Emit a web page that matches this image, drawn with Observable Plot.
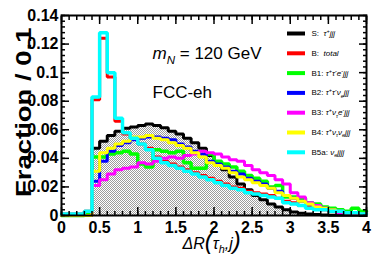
<!DOCTYPE html>
<html><head><meta charset="utf-8">
<script src="https://cdn.jsdelivr.net/npm/d3@7"></script>
<script src="https://cdn.jsdelivr.net/npm/@observablehq/plot@0.6"></script>
<style>
body{margin:0;background:#fff}
svg text{white-space:pre}
</style>
</head><body><div id="chart"></div>
<script>
// ---- data: fraction per 0.1-wide bin of ΔR(τ_h, j), bins start at 0.0 ... 3.9
const binWidth = 0.1;
const nBins = 40;
const S   = [0,0,0,0, 0.047,0.052,0.056,0.059,0.061,0.062, 0.063,0.064,0.063,0.0615,0.059,0.057,0.054,0.051,0.047,0.042, 0.037,0.032,0.027,0.022,0.018,0.014,0.011,0.008,0.006,0.004, 0.0025,0.0015,0.001,0.0007,0.0004,0.0002,0.0001,0.0001,0.0001,0];
const B   = [0.001,0.001,0.001,0.003, 0.081,0.124,0.097,0.066,0.057,0.054, 0.050,0.047,0.041,0.038,0.036,0.034,0.032,0.030,0.028,0.026, 0.024,0.022,0.020,0.019,0.017,0.016,0.015,0.014,0.012,0.010, 0.009,0.007,0.006,0.005,0.004,0.003,0.003,0.002,0.002,0.001];
const B1  = [0,0,0,0.001, 0.041,0.041,0.043,0.044,0.045,0.043, 0.036,0.034,0.046,0.045,0.044,0.045,0.037,0.033,0.033,0.043, 0.038,0.036,0.034,0.031,0.028,0.026,0.024,0.020,0.021,0.013, 0.013,0.012,0.009,0.008,0.006,0.005,0.004,0.003,0.005,0.003];
const B2  = [0,0,0,0, 0.024,0.038,0.045,0.049,0.051,0.053, 0.054,0.055,0.055,0.054,0.053,0.050,0.048,0.045,0.043,0.038, 0.036,0.034,0.031,0.029,0.026,0.024,0.022,0.019,0.017,0.014, 0.012,0.010,0.008,0.006,0.005,0.004,0.003,0.002,0.002,0.001];
const B3  = [0,0,0,0, 0.021,0.025,0.029,0.032,0.033,0.034, 0.037,0.036,0.038,0.040,0.041,0.040,0.042,0.043,0.045,0.044, 0.043,0.041,0.039,0.038,0.035,0.032,0.030,0.028,0.025,0.022, 0.016,0.013,0.009,0.007,0.005,0.003,0.002,0.002,0.001,0.001];
const B4  = [0,0,0,0, 0.031,0.044,0.047,0.050,0.052,0.055, 0.055,0.056,0.054,0.053,0.051,0.049,0.047,0.044,0.041,0.037, 0.035,0.033,0.030,0.027,0.025,0.023,0.021,0.019,0.016,0.014, 0.012,0.010,0.008,0.006,0.005,0.004,0.003,0.002,0.002,0.001];
const B5a = [0.001,0.001,0.001,0.003, 0.083,0.128,0.100,0.068,0.058,0.054, 0.050,0.046,0.040,0.037,0.035,0.033,0.031,0.029,0.027,0.025, 0.023,0.021,0.019,0.018,0.016,0.015,0.014,0.013,0.012,0.009, 0.008,0.007,0.005,0.004,0.004,0.003,0.003,0.002,0.002,0.001];

const seriesNames   = ["S:", "B:", "B1:", "B2:", "B3:", "B4:", "B5a:"];
const seriesLabels  = ["  *τ^{+}jjj*", "  *total*", " *τ^{+}τ^{-}e^{-}jjj*", " *τ^{+}τ^{-}ν_{e}jjj*", " *τ^{+}ν_{τ}e^{-}jjj*", " *τ^{+}ν_{τ}ν_{e}jjj*", " *ν_{e}jjjj*"];
const seriesValues  = [S, B, B1, B2, B3, B4, B5a];
const seriesColors  = ["#000000", "#ff0000", "#00ff00", "#0000ff", "#ff00ff", "#ffff00", "#00ffff"];
const drawOrder     = [1, 2, 3, 4, 5, 6]; // S drawn first (filled)

const xTicks = [0, 0.5, 1, 1.5, 2, 2.5, 3, 3.5, 4];
const xMinor = d3.range(0, 41).map(i => i / 10);
const yTicks = [0, 0.02, 0.04, 0.06, 0.08, 0.1, 0.12, 0.14];
const yMinor = d3.range(0, 36).map(i => +(i * 0.004).toFixed(3));

const yTitle = "Fraction / 0.1";
const annotations = ["*m*_{*N*} = 120 GeV", "FCC-eh"];

// ---- layout
const W = 382, H = 273, mL = 61, mR = 16, mT = 15, mB = 58;
const X0 = 0, X1 = 4, Y0 = 0, Y1 = 0.14;
const px2x = px => X0 + (px - mL) / (W - mL - mR) * (X1 - X0);
const px2y = py => Y0 + (H - mB - py) / (H - mT - mB) * (Y1 - Y0);
const FONT = "'Liberation Sans', Arial, Helvetica, sans-serif";

function stepData(vals) {
  const rows = vals.map((v, i) => ({x: i * binWidth, v}));
  rows.push({x: nBins * binWidth, v: vals[vals.length - 1]});
  return rows;
}

const legendRows = seriesNames.map((n, i) => ({
  name: n, label: seriesLabels[i], color: seriesColors[i],
  y: px2y(33 + i * 19.8)
}));

const marks = [
  Plot.areaY(stepData(S), {x: "x", y: "v", curve: "step-after", fill: "url(#stip)"}),
  Plot.line(stepData(S), {x: "x", y: "v", curve: "step-after", stroke: seriesColors[0], strokeWidth: 3, strokeLinejoin: "miter"}),
  ...drawOrder.map(k => Plot.line(stepData(seriesValues[k]), {
    x: "x", y: "v", curve: "step-after", stroke: seriesColors[k],
    strokeWidth: k === 6 || k === 2 ? 3.5 : 3, strokeLinejoin: "miter"
  })),
  // legend
  Plot.ruleY(legendRows, {y: "y", x1: px2x(287), x2: px2x(305), stroke: "color", strokeWidth: 4}),
  Plot.text(legendRows, {y: "y", x: px2x(311), text: d => d.name + d.label, textAnchor: "start", fontSize: 8, fontWeight: "normal", className: "rich8"}),
  // annotations
  Plot.text([annotations[0]], {x: px2x(152), y: px2y(53), text: d => d, textAnchor: "start", fontSize: 17, fontWeight: "normal", className: "rich17"}),
  Plot.text([annotations[1]], {x: px2x(152), y: px2y(92), text: d => d, textAnchor: "start", fontSize: 17, fontWeight: "normal"}),
  // axes: labels
  Plot.axisY(yTicks, {anchor: "left", tickSize: 0, tickPadding: 3, tickFormat: d => String(d), fontSize: 16, fontWeight: "bold", label: null}),
  Plot.axisX(xTicks, {anchor: "bottom", tickSize: 0, tickPadding: 6, tickFormat: d => String(d), fontSize: 16, fontWeight: "bold", label: null}),
  // axes: inward ticks on all sides
  Plot.axisY(yTicks, {anchor: "left", tickSize: 8, dx: 8, fill: "none", strokeWidth: 1.5, label: null}),
  Plot.axisY(yMinor, {anchor: "left", tickSize: 4, dx: 4, fill: "none", strokeWidth: 1.5, label: null}),
  Plot.axisY(yTicks, {anchor: "right", tickSize: 8, dx: -8, fill: "none", strokeWidth: 1.5, label: null}),
  Plot.axisY(yMinor, {anchor: "right", tickSize: 4, dx: -4, fill: "none", strokeWidth: 1.5, label: null}),
  Plot.axisX(xTicks, {anchor: "bottom", tickSize: 8, dy: -8, fill: "none", strokeWidth: 1.5, label: null}),
  Plot.axisX(xMinor, {anchor: "bottom", tickSize: 4, dy: -4, fill: "none", strokeWidth: 1.5, label: null}),
  Plot.axisX(xTicks, {anchor: "top", tickSize: 8, dy: 8, fill: "none", strokeWidth: 1.5, label: null}),
  Plot.axisX(xMinor, {anchor: "top", tickSize: 4, dy: 4, fill: "none", strokeWidth: 1.5, label: null}),
  Plot.frame({stroke: "black", strokeWidth: 2}),
  // titles
  Plot.text([yTitle], {frameAnchor: "top-left", dx: -46, dy: 12, rotate: -90, text: d => d, textAnchor: "end", fontSize: 22, fontWeight: "bold", className: "ytitle"}),
  Plot.text(["*ΔR(τ_{h},j)*"], {x: px2x(182), y: px2y(243), text: d => d, textAnchor: "start", fontSize: 16, fontWeight: "normal", className: "xtitle"})
];

const svg = Plot.plot({
  width: W, height: H,
  marginLeft: mL, marginRight: mR, marginTop: mT, marginBottom: mB,
  x: {domain: [X0, X1]},
  y: {domain: [Y0, Y1]},
  style: {fontFamily: FONT, fontSize: "16px", color: "black", background: "white", overflow: "visible"},
  marks
});

// stipple pattern for signal fill
const defs = d3.select(svg).insert("defs", ":first-child");
const pat = defs.append("pattern").attr("id", "stip").attr("patternUnits", "userSpaceOnUse")
  .attr("x", 0).attr("y", 0).attr("width", 2).attr("height", 2);
pat.append("rect").attr("width", 2).attr("height", 2).attr("fill", "#ffffff");
pat.append("rect").attr("width", 1).attr("height", 1).attr("fill", "#9c9c9c");
pat.append("rect").attr("x", 1).attr("y", 1).attr("width", 1).attr("height", 1).attr("fill", "#9c9c9c");

// rich text (sub/superscripts, italics)
function parseRich(s, bigParen) {
  const segs = []; let italic = false, buf = "", i = 0;
  const flush = () => { if (buf) segs.push({t: buf, italic, pos: 0}); buf = ""; };
  while (i < s.length) {
    const c = s[i];
    if (c === "*") { flush(); italic = !italic; i++; }
    else if ((c === "^" || c === "_") && s[i + 1] === "{") {
      flush();
      const j = s.indexOf("}", i);
      let inner = s.slice(i + 2, j), it = italic;
      if (inner.startsWith("*") && inner.endsWith("*")) { inner = inner.slice(1, -1); it = true; }
      segs.push({t: inner, italic: it, pos: c === "^" ? 1 : -1});
      i = j + 1;
    } else if (bigParen && (c === "(" || c === ")")) {
      flush(); segs.push({t: c, italic, pos: 0, big: true}); i++;
    } else { buf += c; i++; }
  }
  flush();
  return segs;
}
function renderRich(el, fs, bigParen) {
  const t = d3.select(el);
  const markup = t.text();
  t.text(null);
  let cur = 0;
  for (const sg of parseRich(markup, bigParen)) {
    const target = sg.pos === 1 ? -0.38 * fs : sg.pos === -1 ? 0.3 * fs : 0;
    t.append("tspan")
      .attr("dy", (target - cur).toFixed(2))
      .attr("font-size", sg.big ? fs * 1.5 : sg.pos ? fs * 0.68 : fs)
      .attr("font-style", sg.italic ? "italic" : "normal")
      .text(sg.t);
    cur = target;
  }
}
d3.select(svg).selectAll("g.rich8 text").each(function() { renderRich(this, 8, false); });
d3.select(svg).selectAll("g.rich17 text").each(function() { renderRich(this, 17, false); });
d3.select(svg).selectAll("g.xtitle text").each(function() { renderRich(this, 16, true); });
// stretch the rotated y title along its baseline (as in the reference)
d3.select(svg).selectAll("g.ytitle text").each(function() {
  const tr = this.getAttribute("transform") || "";
  this.setAttribute("transform", tr + " scale(1.25,1)");
});

document.getElementById("chart").appendChild(svg);
</script>
</body></html>
